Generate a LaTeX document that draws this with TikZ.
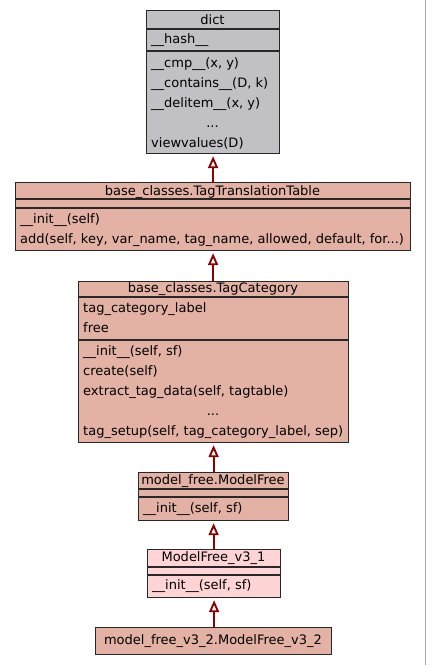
\documentclass[tikz,border=0pt]{standalone}
\usepackage{fontspec}
\setmainfont{DejaVu Sans}
\usetikzlibrary{arrows.meta}
\definecolor{dictgray}{RGB}{193,192,197}
\definecolor{salmon}{RGB}{227,178,164}
\definecolor{pinkcls}{RGB}{255,212,212}
\definecolor{bordercol}{RGB}{40,40,40}
\definecolor{inhred}{RGB}{139,0,0}
\definecolor{edgegray}{RGB}{170,170,178}
\tikzset{
  cls/.style={draw=bordercol, line width=1.2pt, rectangle, inner sep=0pt, anchor=north west},
  sepline/.style={draw=bordercol, line width=1.2pt},
  txt/.style={font=\fontsize{13pt}{15pt}\selectfont, inner sep=0pt, text=black},
  lt/.style={txt, anchor=base west},
  ct/.style={txt, anchor=base},
  inh/.style={draw=inhred, line width=1.9pt, -{Triangle[open,length=12pt,width=10pt]}, shorten >=2pt}
}
\begin{document}
\begin{tikzpicture}[x=1pt,y=-1pt]
\useasboundingbox (0,0) rectangle (427,665);
\fill[white] (0,0) rectangle (427,665);
\draw[edgegray, line width=1.5pt] (425.5,0) -- (425.5,665);

% dict
\node[cls, fill=dictgray, minimum width=133pt, minimum height=143pt] (dict) at (146,10) {};
\draw[sepline] (146,29) -- (279,29);
\draw[sepline] (146,51) -- (279,51);
\node[ct] (dictT) at (212.5,24) {dict};
\node[lt] (dictA1) at (151,43.5) {\_\_hash\_\_};
\node[lt] (dictM1) at (151,67) {\_\_cmp\_\_(x, y)};
\node[lt] (dictM2) at (151,87) {\_\_contains\_\_(D, k)};
\node[lt] (dictM3) at (151,107) {\_\_delitem\_\_(x, y)};
\node[ct] (dictM4) at (212.5,127) {...};
\node[lt] (dictM5) at (151,147) {viewvalues(D)};

% TagTranslationTable
\node[cls, fill=salmon, minimum width=395pt, minimum height=68pt] (ttt) at (15,182) {};
\draw[sepline] (15,199) -- (410,199);
\draw[sepline] (15,208) -- (410,208);
\node[ct] (tttT) at (212.5,195) {base\_classes.TagTranslationTable};
\node[lt] (tttM1) at (20,223.5) {\_\_init\_\_(self)};
\node[lt] (tttM2) at (20,243.5) {add(self, key, var\_name, tag\_name, allowed, default, for...)};

% TagCategory
\node[cls, fill=salmon, minimum width=270pt, minimum height=161pt] (tc) at (78,281) {};
\draw[sepline] (78,297) -- (348,297);
\draw[sepline] (78,340) -- (348,340);
\node[ct] (tcT) at (213,292.5) {base\_classes.TagCategory};
\node[lt] (tcA1) at (83,312.5) {tag\_category\_label};
\node[lt] (tcA2) at (83,332.5) {free};
\node[lt] (tcM1) at (83,355.5) {\_\_init\_\_(self, sf)};
\node[lt] (tcM2) at (83,375) {create(self)};
\node[lt] (tcM3) at (83,395) {extract\_tag\_data(self, tagtable)};
\node[ct] (tcM4) at (213,415) {...};
\node[lt] (tcM5) at (83,435) {tag\_setup(self, tag\_category\_label, sep)};

% model_free.ModelFree
\node[cls, fill=salmon, minimum width=150pt, minimum height=48pt] (mf) at (138,472) {};
\draw[sepline] (138,489) -- (288,489);
\draw[sepline] (138,497) -- (288,497);
\node[ct] (mfT) at (213,484.5) {model\_free.ModelFree};
\node[lt] (mfM1) at (143,512.5) {\_\_init\_\_(self, sf)};

% ModelFree_v3_1
\node[cls, fill=pinkcls, minimum width=133pt, minimum height=48pt] (v31) at (147,549) {};
\draw[sepline] (147,567) -- (280,567);
\draw[sepline] (147,575) -- (280,575);
\node[ct] (v31T) at (213.5,561.5) {ModelFree\_v3\_1};
\node[lt] (v31M1) at (152,589.5) {\_\_init\_\_(self, sf)};

% model_free_v3_2.ModelFree_v3_2
\node[cls, fill=salmon, minimum width=236pt, minimum height=27pt] (v32) at (95,627) {};
\node[ct] (v32T) at (213,644.5) {model\_free\_v3\_2.ModelFree\_v3\_2};

% inheritance arrows
\draw[inh] (ttt.north -| dict.south) -- (dict.south);
\draw[inh] (tc.north -| ttt.south) -- (ttt.south);
\draw[inh] (mf.north) -- (mf.north |- tc.south);
\draw[inh] (v31.north -| mf.south) -- (mf.south);
\draw[inh] (v32.north -| v31.south) -- (v31.south);
\end{tikzpicture}
\end{document}
